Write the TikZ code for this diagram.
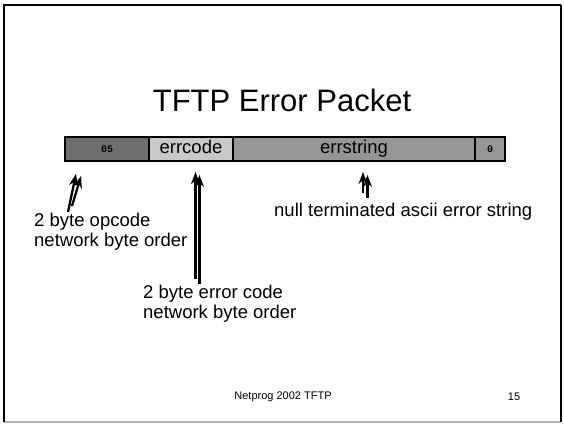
\documentclass[tikz,border=0pt]{standalone}
\usepackage{fontspec}
\setmainfont{Liberation Sans}
\newfontfamily\monofont{Liberation Mono}
\usetikzlibrary{arrows.meta}
\definecolor{cellA}{gray}{0.43}
\definecolor{cellB}{gray}{0.79}
\definecolor{cellC}{gray}{0.59}
\tikzset{
  cell/.style={draw=black, line width=2pt, minimum height=24pt, inner sep=0pt,
    anchor=north west},
  celltext/.style={font=\fontsize{18.5}{20}\selectfont, text height=13pt, text depth=4pt},
  cellnum/.style={font=\monofont\bfseries\fontsize{10}{12}\selectfont},
  lbl/.style={font=\fontsize{18.5}{20}\selectfont, align=left, inner sep=0pt, anchor=north west},
  ptr/.style={line width=2.3pt, -{Stealth[length=12pt,width=9pt]}},
}
\begin{document}
\begin{tikzpicture}[x=1pt,y=-1pt]
\useasboundingbox (0,0) rectangle (564,424);
% slide frame
\draw[gray!60, line width=1.2pt] (4,422) -- (561,422);
\draw[black, line width=1.2pt] (561,5) -- (561,422);
\draw[black, line width=2.2pt] (4,422) -- (4,5) -- (561,5);

% title
\node[font=\fontsize{31}{36}\selectfont] (title) at (282,100) {TFTP Error Packet};

% packet layout with its drop shadow
\fill[black] (66,138) rectangle (506,162);
\node[cell, cellnum, fill=cellA, minimum width=84pt] (op) at (64,136) {05};
\node[cell, celltext, fill=cellB, minimum width=84pt] (ec) at (148,136) {errcode};
\node[cell, celltext, fill=cellC, minimum width=242pt] (es) at (232,136) {errstring};
\node[cell, cellnum, fill=cellC, minimum width=30pt] (nul) at (474,136) {0};

% annotations
\node[lbl] (opl) at (34,213) {2 byte opcode\\network byte order};
\node[lbl] (ecl) at (143,285) {2 byte error code\\network byte order};
\node[lbl] (esl) at (274,203) {null terminated ascii error string};

% pointers (each drawn twice, slightly offset)
\coordinate (o1s) at (68,212); \coordinate (o1e) at (76,174);
\coordinate (o2s) at (72,206); \coordinate (o2e) at (81,176);
\draw[ptr] (o1s) -- (o1e);
\draw[ptr] (o2s) -- (o2e);
\coordinate (e1s) at (195.5,279); \coordinate (e1e) at (195.5,172);
\coordinate (e2s) at (199.5,284); \coordinate (e2e) at (199.5,175);
\draw[ptr] (e1s) -- (e1e);
\draw[ptr] (e2s) -- (e2e);
\coordinate (s1s) at (363,193); \coordinate (s1e) at (363,172);
\coordinate (s2s) at (367.5,198); \coordinate (s2e) at (367.5,175);
\draw[ptr] (s1s) -- (s1e);
\draw[ptr] (s2s) -- (s2e);

% footer
\node[font=\fontsize{11}{13}\selectfont] (foot) at (283,397) {Netprog 2002 TFTP};
\node[font=\fontsize{11}{13}\selectfont] (page) at (514,397) {15};
\end{tikzpicture}
\end{document}
